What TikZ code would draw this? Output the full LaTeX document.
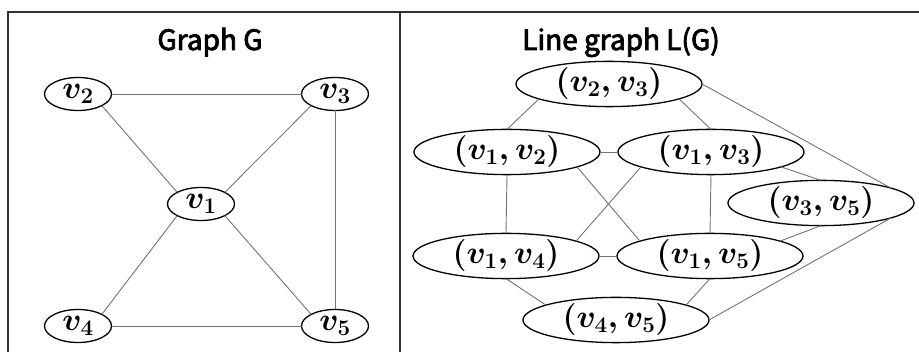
\RequirePackage{fix-cm}
\documentclass[tikz,border=0pt]{standalone}
\usepackage{fontspec}
\newfontfamily\jpfont{Noto Sans CJK JP}[RawFeature={embolden=3}]
\usetikzlibrary{shapes.geometric}
\begin{document}
\begin{tikzpicture}[x=1pt,y=-1pt,
  vnode/.style={ellipse, draw=black, line width=1.3pt, fill=white, inner sep=0pt, outer sep=0pt,
    minimum width=67pt, minimum height=33pt, font=\fontsize{32}{34}\selectfont\boldmath},
  enode/.style={vnode, minimum width=186pt, minimum height=39pt},
  link/.style={draw=black!55, line width=0.9pt},
  frame/.style={draw=black!80, line width=1.6pt},
  title/.style={font=\jpfont\fontsize{28}{30}\selectfont, anchor=base, inner sep=0pt}
]
\useasboundingbox (0,0) rectangle (919,352);
% frame
\coordinate (tl) at (8,12);
\coordinate (tr) at (930,12);
\coordinate (bl) at (8,362);
\coordinate (dt) at (400,12);
\coordinate (db) at (400,362);
\draw[frame] (tr) -- (tl) -- (bl);
\draw[frame] (dt) -- (db);
% titles
\node[title] (t1) at (210,50) {Graph G};
\node[title] (t2) at (621,50) {Line graph L(G)};
% graph G
\node[vnode] (v2) at (78,94) {$v_2$};
\node[vnode] (v3) at (335,94) {$v_3$};
\node[vnode] (v1) at (201,204) {$v_1$};
\node[vnode] (v4) at (78,326) {$v_4$};
\node[vnode] (v5) at (335,326) {$v_5$};
\draw[link] (v2.east) -- (v3.west);
\draw[link] (v2.-26) -- (v1.154);
\draw[link] (v3.206) -- (v1.26);
\draw[link] (v3.south) -- (v5.north);
\draw[link] (v1.206) -- (v4.26);
\draw[link] (v1.-26) -- (v5.154);
\draw[link] (v4.east) -- (v5.west);
% line graph L(G)
\node[enode] (e23) at (609,84) {$(v_2, v_3)$};
\node[enode] (e12) at (507,152) {$(v_1, v_2)$};
\node[enode] (e13) at (711,152) {$(v_1, v_3)$};
\node[enode] (e35) at (821,203) {$(v_3, v_5)$};
\node[enode] (e14) at (506,256) {$(v_1, v_4)$};
\node[enode] (e15) at (710,256) {$(v_1, v_5)$};
\node[enode] (e45) at (616,320) {$(v_4, v_5)$};
\draw[link] (e23.192) -- (e12.north);
\draw[link] (e23.348) -- (e13.north);
\draw[link] (e23.east) -- (e35.12);
\draw[link] (e12.east) -- (e13.west);
\draw[link] (e12.south) -- (e14.north);
\draw[link] (e12.348) -- (e15.168);
\draw[link] (e13.192) -- (e14.12);
\draw[link] (e13.south) -- (e15.north);
\draw[link] (e13.348) -- (e35.north);
\draw[link] (e14.east) -- (e15.west);
\draw[link] (e14.south) -- (e45.168);
\draw[link] (e15.south) -- (e45.12);
\draw[link] (e15.12) -- (e35.south);
\draw[link] (e35.348) -- (e45.east);
\end{tikzpicture}
\end{document}
